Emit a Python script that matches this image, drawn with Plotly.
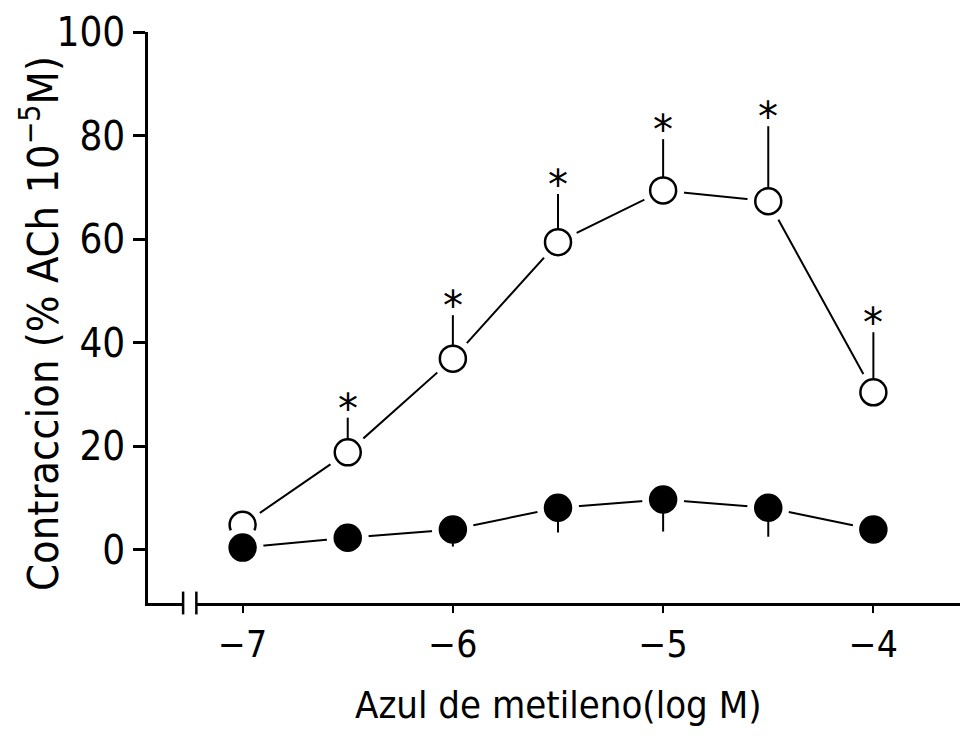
import plotly.graph_objects as go

# datos
log_dose = [-7, -6.5, -6, -5.5, -5, -4.5, -4]
control = [4.8, 18.8, 36.9, 59.4, 69.4, 67.3, 30.4]
control_sem = [0, 6.7, 8.4, 9.3, 9.9, 14.5, 11.6]
tratado = [0.4, 2.3, 3.9, 8.1, 9.7, 8.1, 3.9]
tratado_sem = [0, 0, 3.3, 4.8, 6.2, 5.6, 0]
signif = [False, True, True, True, True, True, True]

x_ticks = [-7, -6, -5, -4]
x_labels = ["\u22127", "\u22126", "\u22125", "\u22124"]
y_ticks = [0, 20, 40, 60, 80, 100]
y_labels = ["0", "20", "40", "60", "80", "100"]

FONT = "Liberation Sans Narrow, DejaVu Sans Condensed, Arial Narrow, sans-serif"

fig = go.Figure()

for ys, sem, filled in [(control, control_sem, False), (tratado, tratado_sem, True)]:
    # linea
    fig.add_trace(go.Scatter(x=log_dose, y=ys, mode="lines",
                             line=dict(color="black", width=2), hoverinfo="skip"))
    # hueco blanco alrededor del punto
    fig.add_trace(go.Scatter(x=log_dose, y=ys, mode="markers",
                             marker=dict(size=42, color="white", line=dict(width=0)),
                             hoverinfo="skip"))
    err = dict(type="data", symmetric=False, color="black", thickness=2, width=0)
    if filled:
        err.update(array=[0] * len(sem), arrayminus=sem)
    else:
        err.update(array=sem, arrayminus=[0] * len(sem))
    fig.add_trace(go.Scatter(
        x=log_dose, y=ys, mode="markers", error_y=err,
        marker=dict(size=26, color="black" if filled else "white",
                    line=dict(color="black", width=2.5)),
    ))

for xv, yv, s, sig in zip(log_dose, control, control_sem, signif):
    if sig:
        fig.add_annotation(x=xv, y=yv + s, text="*", showarrow=False,
                           yanchor="bottom", yshift=-16,
                           font=dict(family="DejaVu Sans", size=40, color="black"))

# corte del eje x
fig.add_shape(type="rect", xref="x", yref="paper", x0=-7.283, x1=-7.22, y0=-0.01, y1=0.01,
              fillcolor="white", line=dict(width=0), layer="above")
for xb in [-7.283, -7.22]:
    fig.add_shape(type="line", xref="x", yref="paper", x0=xb, x1=xb, y0=-0.02, y1=0.02,
                  line=dict(color="black", width=2.5), layer="above")

fig.add_annotation(text="Contraccion (% ACh 10<sup>\u22125</sup>M)", textangle=-90,
                   xref="paper", yref="paper", x=-0.132, y=0.49, xanchor="center",
                   showarrow=False, font=dict(family=FONT, size=43, color="black"))
fig.add_annotation(text="Azul de metileno(log M)", xref="paper", yref="paper",
                   x=0.5, y=-0.178, yanchor="middle", showarrow=False,
                   font=dict(family=FONT, size=38, color="black"))

# la pagina tiene 8 px de margen en body
fig.update_layout(
    width=960, height=735,
    margin=dict(l=140, r=0, t=24, b=140),
    paper_bgcolor="white", plot_bgcolor="white",
    showlegend=False,
    font=dict(family=FONT, color="black"),
)
fig.update_xaxes(range=[-7.45, -3.55], tickvals=x_ticks, ticktext=x_labels,
                 showgrid=False, zeroline=False, showline=True, linecolor="black",
                 linewidth=2.5, ticks="outside", ticklen=7, tickwidth=2,
                 tickcolor="black", tickfont=dict(size=37), automargin=False)
fig.update_yaxes(range=[-10.3, 100], tickvals=y_ticks, ticktext=y_labels,
                 showgrid=False, zeroline=False, showline=True, linecolor="black",
                 linewidth=2.5, ticks="outside", ticklen=12, tickwidth=2.5,
                 tickcolor="black", tickfont=dict(size=40), automargin=False)

fig.write_html("out.html")
